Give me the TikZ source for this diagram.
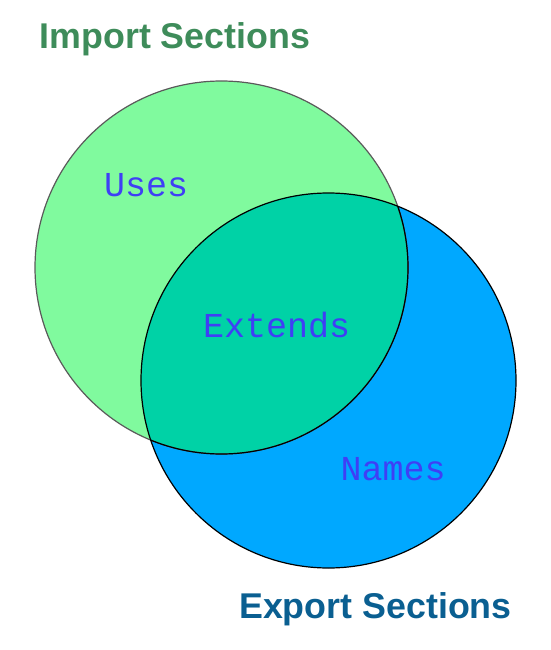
\documentclass[tikz,border=0pt]{standalone}
\usepackage{xcolor}
\usepackage{fontspec}
\usepackage{tikz}
\newfontfamily\headfont{Liberation Sans}
\newfontfamily\codefont{Liberation Mono}
\definecolor{inkImp}{HTML}{3E8C5A}
\definecolor{inkExp}{HTML}{0A5F91}
\definecolor{inkLbl}{HTML}{3F3FF5}
\definecolor{fImp}{HTML}{80FA9E}
\definecolor{fExp}{HTML}{00A8FF}
\definecolor{fBoth}{HTML}{00D2A6}
\definecolor{lnImp}{HTML}{5A5A5A}

\tikzset{
  headlbl/.style={anchor=base west, inner sep=0pt,
                  font=\headfont\bfseries\fontsize{35.8}{40}\selectfont},
  setlbl/.style={anchor=base west, inner sep=0pt, text=inkLbl,
                 font=\codefont\fontsize{35}{40}\selectfont}
}

\begin{document}
\begin{tikzpicture}[x=1pt, y=-1pt]
  \useasboundingbox (0,0) rectangle (550,650);
  \coordinate (impC) at (221.5,267.5);
  \coordinate (expC) at (328.5,380.5);

  % sets
  \fill[fImp] (impC) circle (186.5);
  \fill[fExp] (expC) circle (187.5);
  \begin{scope}
    \clip (impC) circle (186.5);
    \fill[fBoth] (expC) circle (187.5);
  \end{scope}

  % outlines
  \draw[lnImp, line width=1.2pt] (impC) circle (186.5);
  \begin{scope}
    \clip (expC) circle (187.5);
    \draw[black, line width=1.2pt] (impC) circle (186.5);
  \end{scope}
  \draw[black, line width=1.2pt] (expC) circle (187.5);

  % labels
  \node[headlbl, text=inkImp] (impHead) at (39.5,48.3) {Import Sections};
  \node[headlbl, text=inkExp] (expHead) at (239,618.3) {Export Sections};
  \node[setlbl] (usesLbl) at (104,196.7) {Uses};
  \node[setlbl] (extLbl) at (203,337.3) {Extends};
  \node[setlbl] (namesLbl) at (340.5,480) {Names};
\end{tikzpicture}
\end{document}
